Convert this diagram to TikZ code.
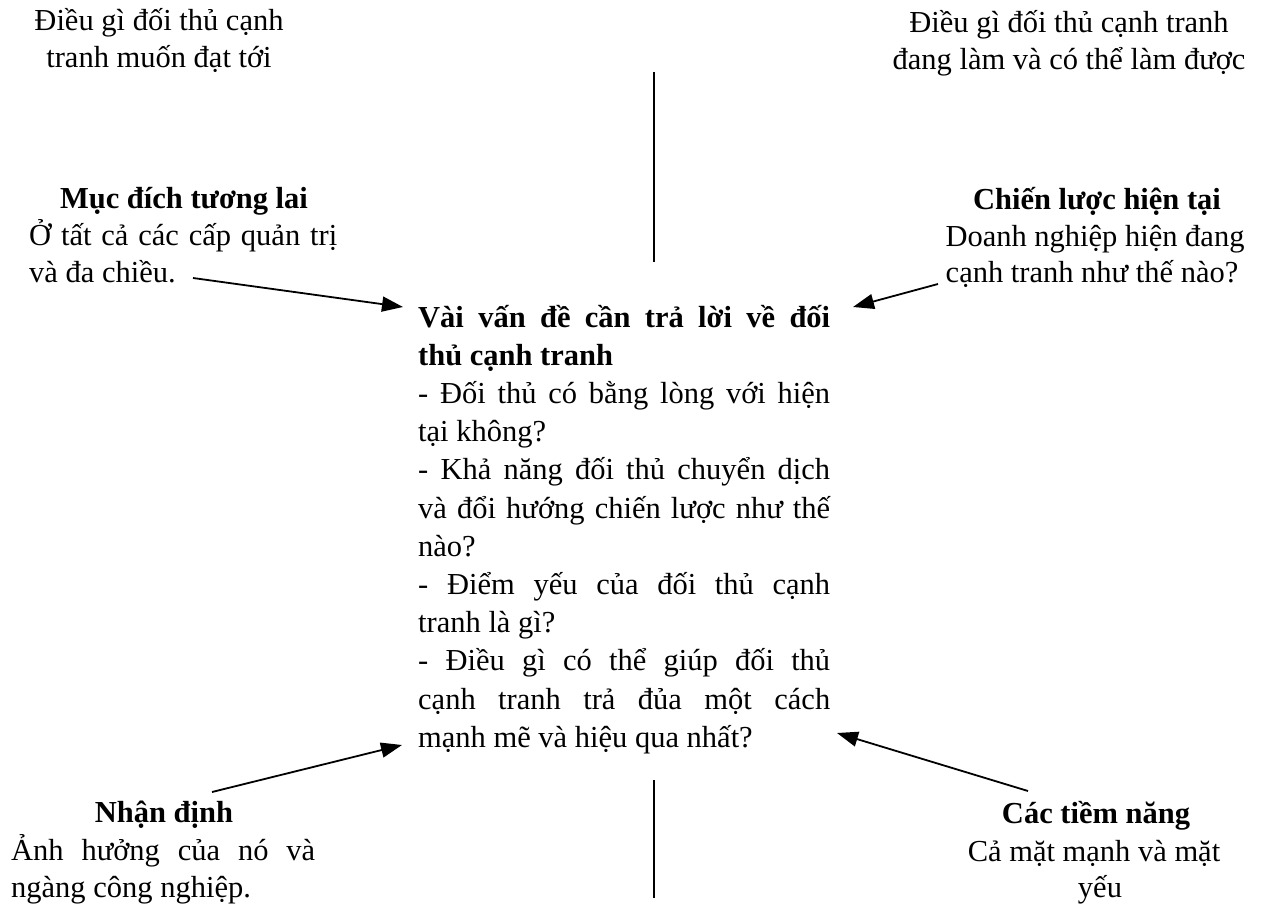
\documentclass[tikz,border=0pt]{standalone}
\usepackage{fontspec}
\setmainfont{Liberation Serif}
\usetikzlibrary{arrows.meta}
\tikzset{
  txt/.style={inner sep=0pt, anchor=base, font=\fontsize{30.5}{38}\selectfont},
  hd/.style={txt, font=\fontsize{30.5}{38}\selectfont\bfseries},
  jl/.style={txt, anchor=base west},
  conn/.style={line width=1.8pt, -{Triangle[length=21pt,width=15pt]}},
  rulev/.style={line width=1.6pt}
}
\newcommand{\jline}[1]{\makebox[412pt][s]{#1}}
\begin{document}
\begin{tikzpicture}[x=1pt,y=-1pt]
\useasboundingbox (0,0) rectangle (1263,904);
% top texts
\node[txt] (tl1) at (159,31) {Điều gì đối thủ cạnh};
\node[txt] (tl2) at (159,68) {tranh muốn đạt tới};
\node[txt] (tr1) at (1069,33) {Điều gì đối thủ cạnh tranh};
\node[txt] (tr2) at (1069,70) {đang làm và có thể làm được};
% vertical rules
\coordinate (vt1) at (654,72);
\coordinate (vt2) at (654,262);
\draw[rulev] (vt1) -- (vt2);
\coordinate (vb1) at (654,780);
\coordinate (vb2) at (654,898);
\draw[rulev] (vb1) -- (vb2);
% Muc dich
\node[hd] (md1) at (184,208) {Mục đích tương lai};
\node[jl] (md2) at (29,245) {\makebox[308pt][s]{Ở tất cả các cấp quản trị}};
\node[jl] (md3) at (29,282) {và đa chiều.};
% Chien luoc
\node[hd] (cl1) at (1097,209) {Chiến lược hiện tại};
\node[txt] (cl2) at (1095,246) {Doanh nghiệp hiện đang};
\node[txt] (cl3) at (1092,282) {cạnh tranh như thế nào?};
% central block
\node[jl, font=\fontsize{30.5}{38}\selectfont\bfseries] (c1) at (418,327) {\jline{Vài vấn đề cần trả lời về đối}};
\node[jl, font=\fontsize{30.5}{38}\selectfont\bfseries] (c2) at (418,365.2) {thủ cạnh tranh};
\node[jl] (c3) at (418,403.4) {\jline{- Đối thủ có bằng lòng với hiện}};
\node[jl] (c4) at (418,441.6) {tại không?};
\node[jl] (c5) at (418,479.8) {\jline{- Khả năng đối thủ chuyển dịch}};
\node[jl] (c6) at (418,518) {\jline{và đổi hướng chiến lược như thế}};
\node[jl] (c7) at (418,556.2) {nào?};
\node[jl] (c8) at (418,594.4) {\jline{- Điểm yếu của đối thủ cạnh}};
\node[jl] (c9) at (418,632.6) {tranh là gì?};
\node[jl] (c10) at (418,670.8) {\jline{- Điều gì có thể giúp đối thủ}};
\node[jl] (c11) at (418,709) {\jline{cạnh tranh trả đủa một cách}};
\node[jl] (c12) at (418,747.2) {mạnh mẽ và hiệu qua nhất?};
% Nhan dinh
\node[hd] (nd1) at (164,822) {Nhận định};
\node[jl] (nd2) at (11,860) {\makebox[304pt][s]{Ảnh hưởng của nó và}};
\node[jl] (nd3) at (11,897) {ngàng công nghiệp.};
% Cac tiem nang
\node[hd] (tn1) at (1096,823) {Các tiềm năng};
\node[txt] (tn2) at (1094,861) {Cả mặt mạnh và mặt};
\node[txt] (tn3) at (1100,897) {yếu};
% arrows
\coordinate (s1) at (193,278);
\coordinate (e1) at (403,307);
\coordinate (s2) at (938,284);
\coordinate (e2) at (853,307);
\coordinate (s3) at (212,792);
\coordinate (e3) at (402,745);
\coordinate (s4) at (1028,791);
\coordinate (e4) at (837,733);
\draw[conn] (s1) -- (e1);
\draw[conn] (s2) -- (e2);
\draw[conn] (s3) -- (e3);
\draw[conn] (s4) -- (e4);
\end{tikzpicture}
\end{document}
